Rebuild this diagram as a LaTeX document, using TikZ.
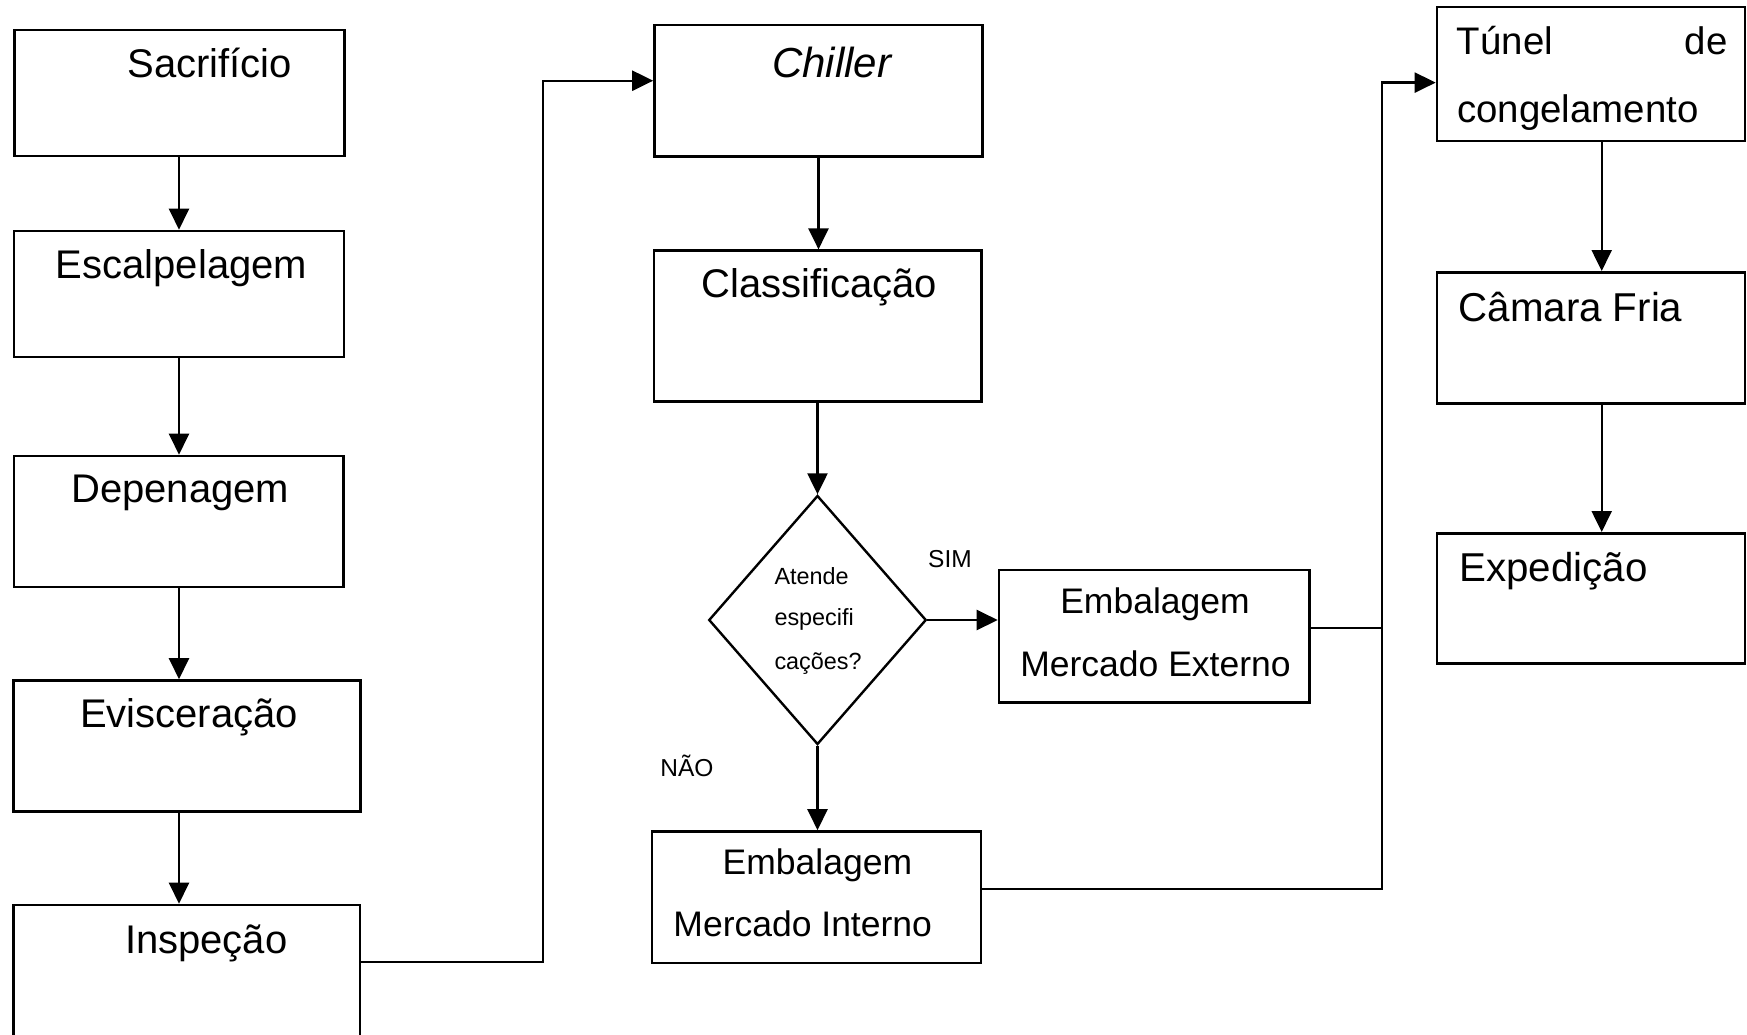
\documentclass[tikz,border=0pt]{standalone}
\usepackage{fontspec}
\setmainfont{Liberation Sans}
\usetikzlibrary{arrows.meta,shapes.geometric}
\tikzset{
  box/.style={draw, line width=2.6pt, inner sep=0pt, rectangle},
  conn/.style={line width=2.3pt},
  arr/.style={line width=2.3pt, -{Triangle[length=21pt,width=20pt]}},
  lbl/.style={inner sep=0pt, font=\fontsize{40}{48}\selectfont},
  lblr/.style={inner sep=0pt, font=\fontsize{40.3}{48}\selectfont},
  lblt/.style={inner sep=0pt, font=\fontsize{38.4}{46}\selectfont},
  lble/.style={inner sep=0pt, font=\fontsize{35.5}{42}\selectfont},
  lbld/.style={inner sep=0pt, font=\fontsize{23.4}{28}\selectfont},
  lbls/.style={inner sep=0pt, font=\fontsize{24.5}{29}\selectfont},
}
\begin{document}
\begin{tikzpicture}[x=1pt,y=-1pt]
\useasboundingbox (0,0) rectangle (1747,1034);
\fill[white] (0,0) rectangle (1747,1034);
\clip (0,0) rectangle (1747,1034);

% left column
\node[box, minimum width=330pt, minimum height=126pt] (sac) at (179.5,93) {};
\node[box, minimum width=330pt, minimum height=126pt] (esc) at (179,294) {};
\node[box, minimum width=329.5pt, minimum height=131pt] (dep) at (178.75,521.5) {};
\node[box, minimum width=347pt, minimum height=131pt] (evi) at (187,746) {};
\node[box, minimum width=346.5pt, minimum height=140pt] (ins) at (186.75,975) {};

% middle column
\node[box, minimum width=328pt, minimum height=131.7pt] (chi) at (818.5,90.85) {};
\node[box, minimum width=327.7pt, minimum height=151pt] (cla) at (817.85,326.2) {};
\node[draw, diamond, line width=2.4pt, inner sep=0pt, minimum width=217.5pt, minimum height=249pt] (dia) at (817.5,620) {};
\node[box, minimum width=310.5pt, minimum height=132.5pt] (ext) at (1154.25,636.25) {};
\node[box, minimum width=329pt, minimum height=131.5pt] (int) at (816.5,897.25) {};

% right column
\node[box, minimum width=308pt, minimum height=134pt] (tun) at (1591,74) {};
\node[box, minimum width=308pt, minimum height=131pt] (cam) at (1591,337.8) {};
\node[box, minimum width=308pt, minimum height=130pt] (exp) at (1591,598.3) {};

% texts
\node[lbl, anchor=base] (tsac) at (209.7,77.3) {Sacrifício};
\node[lbl, anchor=base] (tesc) at (181.5,278.3) {Escalpelagem};
\node[lbl, anchor=base] (tdep) at (180.3,502.7) {Depenagem};
\node[lbl, anchor=base] (tevi) at (189,727.5) {Evisceração};
\node[lbl, anchor=base] (tins) at (206.3,953) {Inspeção};
\node[inner sep=0pt, font=\fontsize{42}{50}\selectfont\itshape, anchor=base] (tchi) at (831.8,77.3) {Chiller};
\node[lbl, anchor=base] (tcla) at (819.3,297.7) {Classificação};
\node[lbld, anchor=base west] (td1) at (774.3,584.6) {Atende};
\node[lbld, anchor=base west] (td2) at (774.3,625.6) {especifi};
\node[lbld, anchor=base west] (td3) at (774.3,669) {cações?};
\node[lbls, anchor=base] (tsim) at (950,567.6) {SIM};
\node[lbls, anchor=base] (tnao) at (687,776) {NÃO};
\node[lble, anchor=base] (te1) at (1155,613.6) {Embalagem};
\node[lble, anchor=base] (te2) at (1155.5,676) {Mercado Externo};
\node[lble, anchor=base] (ti1) at (817.4,874) {Embalagem};
\node[lble, anchor=base] (ti2) at (802.7,936.5) {Mercado Interno};
\node[lblt, anchor=base west] (tt1) at (1456.7,54.5) {Túnel};
\node[lblt, anchor=base east] (tt2) at (1727.7,54.5) {de};
\node[lblt, anchor=base west] (tt3) at (1457,122.5) {congelamento};
\node[lblr, anchor=base west] (tcam) at (1458.3,321) {Câmara Fria};
\node[lblr, anchor=base west] (texp) at (1459.3,581) {Expedição};

% vertical arrows, left column
\coordinate (lx) at (179,0);
\draw[arr] (sac.south -| lx) -- (esc.north -| lx);
\draw[arr] (esc.south -| lx) -- (dep.north -| lx);
\draw[arr] (dep.south -| lx) -- (evi.north -| lx);
\draw[arr] (evi.south -| lx) -- (ins.north -| lx);

% Inspeção to Chiller
\coordinate (j1) at (543.3,962.2);
\coordinate (k1) at (543.3,80.7);
\draw[arr] (ins.east |- j1) -- (j1) -- (k1) -- (chi.west |- k1);

% middle column
\draw[arr] (chi.south) -- (cla.north -| chi.south);
\draw[arr] (cla.south -| dia.north) -- (dia.north);
\draw[arr] (dia.east) -- (dia.east -| ext.west);
\draw[arr] (dia.south) -- (dia.south |- int.north);

% to Tunnel
\coordinate (eo) at (1382,627.7);
\coordinate (io) at (1382,888.8);
\coordinate (to) at (1382,82.6);
\draw[conn] (ext.east |- eo) -- (eo);
\draw[arr] (int.east |- io) -- (io) -- (to) -- (tun.west |- to);

% right column
\coordinate (rx) at (1601.7,0);
\draw[arr] (tun.south -| rx) -- (cam.north -| rx);
\draw[arr] (cam.south -| rx) -- (exp.north -| rx);
\end{tikzpicture}
\end{document}
